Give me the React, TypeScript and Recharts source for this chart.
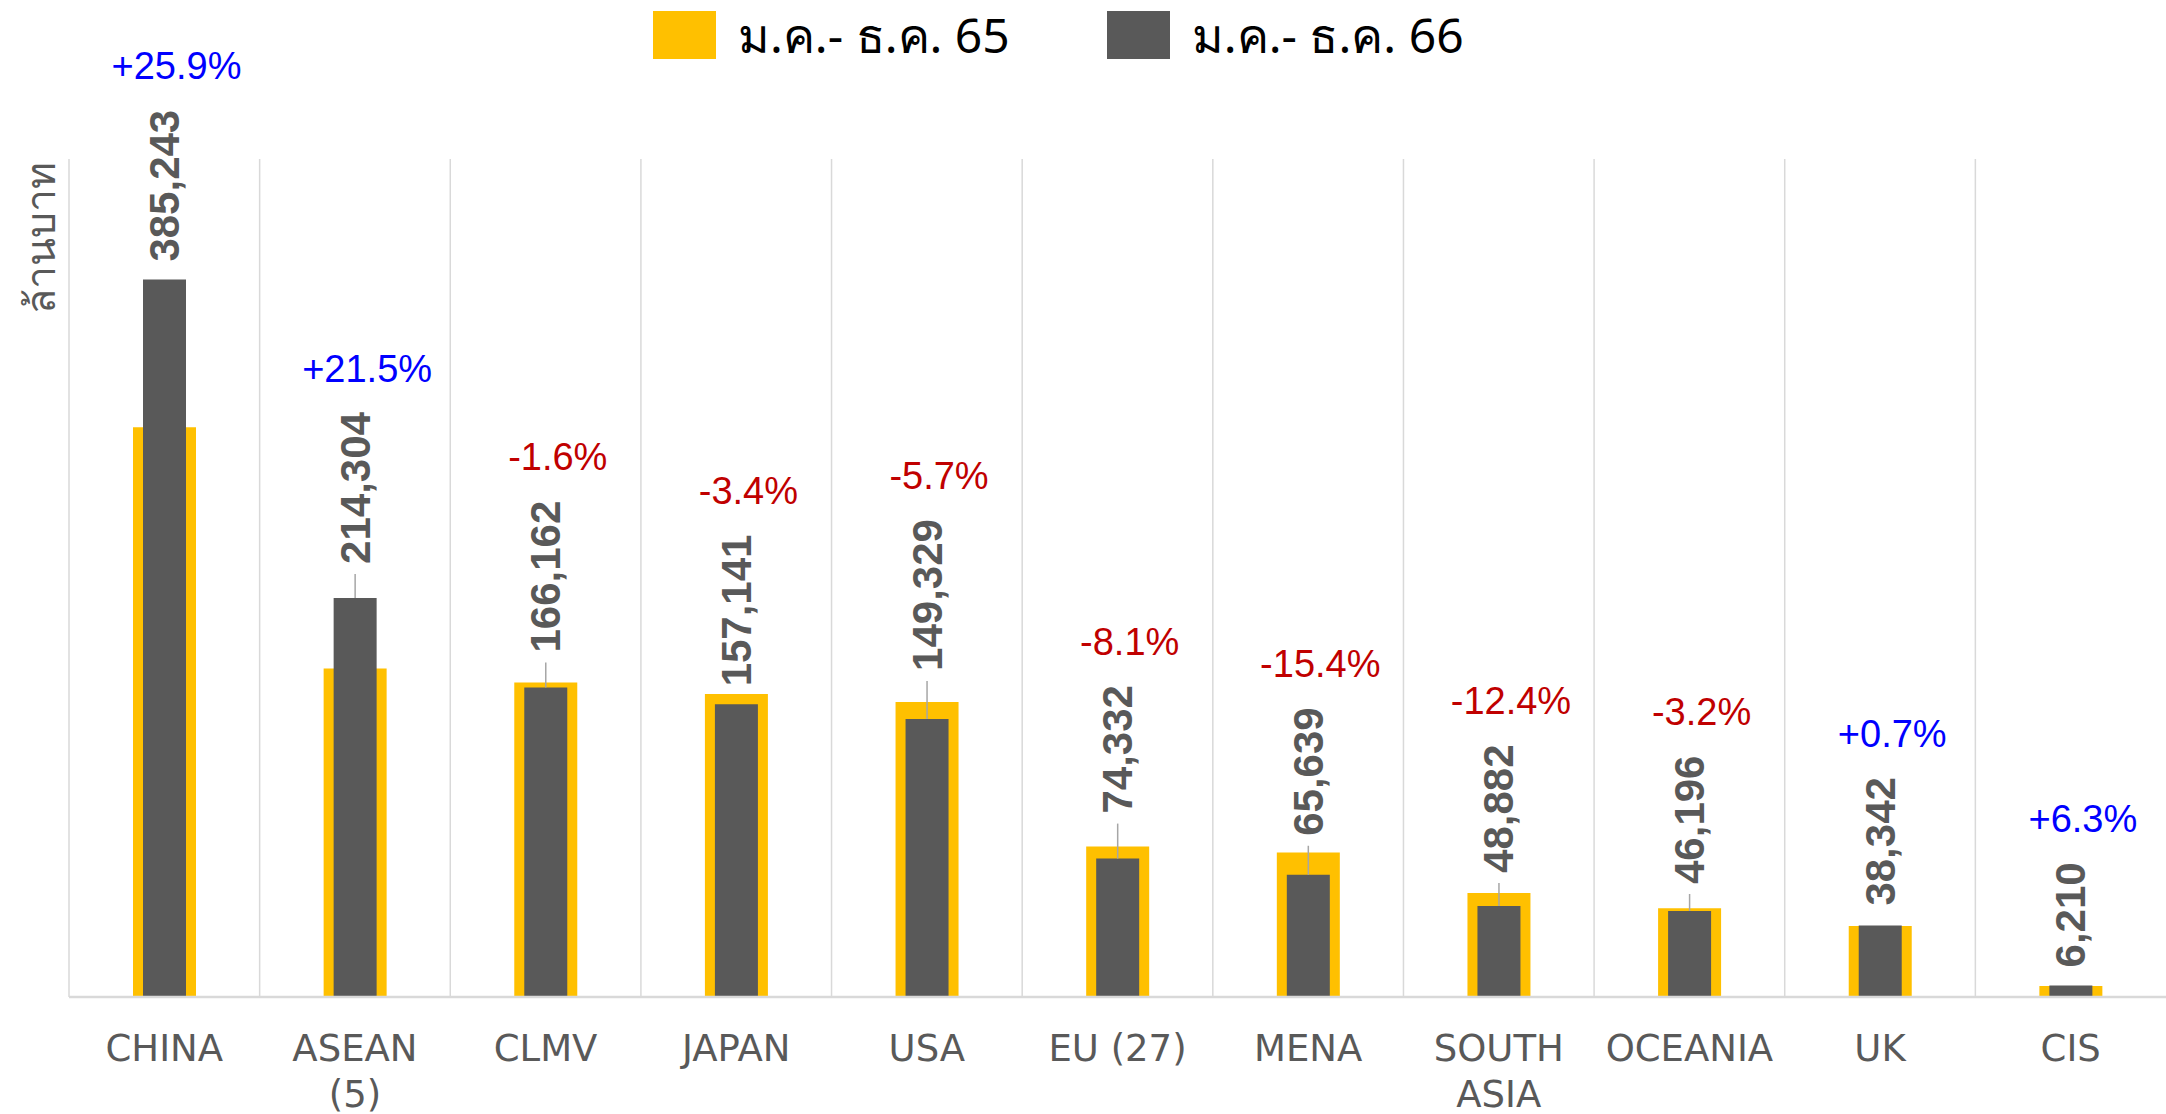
import { BarChart, Bar, XAxis, YAxis, CartesianGrid, LabelList } from "recharts"

const regions = ["CHINA", "ASEAN\n(5)", "CLMV", "JAPAN", "USA", "EU (27)", "MENA", "SOUTH\nASIA", "OCEANIA", "UK", "CIS"]
const value65 = [305991, 176382, 168864, 162672, 158355, 80883, 77587, 55801, 47723, 38075, 5842]
const value66 = [385243, 214304, 166162, 157141, 149329, 74332, 65639, 48882, 46196, 38342, 6210]
const changeText = ["+25.9%", "+21.5%", "-1.6%", "-3.4%", "-5.7%", "-8.1%", "-15.4%", "-12.4%", "-3.2%", "+0.7%", "+6.3%"]
const seriesNames = ["ม.ค.- ธ.ค. 65", "ม.ค.- ธ.ค. 66"]

// how far each value label was dragged above its bar in the original (px)
const labelLift = [18, 34, 35, 18, 48, 45, 39, 33, 27, 20, 18]

const rows = regions.map((name, i) => ({ name, y65: value65[i], y66: value66[i] }))

const YELLOW = "#FFC000"
const GRAY = "#595959"
const GRID = "#d9d9d9"
const THAI = "Tahoma, 'Noto Sans', 'Noto Sans CJK SC', sans-serif"

function CategoryTick({ x, y, payload }: any) {
  const lines = String(payload.value).split("\n")
  return (
    <g>
      {lines.map((t, i) => (
        <text key={i} x={x} y={y + 49 + i * 46} textAnchor="middle" dominantBaseline="central"
          fill={GRAY} fontSize={37} fontFamily="DejaVu Sans">{t}</text>
      ))}
    </g>
  )
}

function ValueLabel(props: any) {
  const { x, y, width, value, index } = props
  const cx = x + width / 2
  const lift = labelLift[index]
  const y0 = y - lift
  const text = Number(value).toLocaleString("en-US")
  const len = text.replace(/,/g, "").length * 23.4 + (text.includes(",") ? 11.7 : 0)
  const change = changeText[index]
  return (
    <g>
      {lift > 24 && <line x1={cx} y1={y} x2={cx} y2={y0 + 10} stroke="#a6a6a6" strokeWidth={1.5} />}
      <text transform={`rotate(-90 ${cx} ${y0})`} x={cx} y={y0} textAnchor="start" dominantBaseline="central"
        fill={GRAY} fontSize={42} fontWeight="bold" fontFamily="'Liberation Sans', Arial, sans-serif">{text}</text>
      <text x={cx + 12} y={y0 - len - 43} textAnchor="middle" dominantBaseline="central"
        fill={change.startsWith("-") ? "#C00000" : "#0000FF"} fontSize={38}
        fontFamily="'Liberation Sans', Arial, sans-serif">{change}</text>
    </g>
  )
}

function LegendBox() {
  const colors = [YELLOW, GRAY]
  return (
    <div style={{ position: "absolute", left: 653, top: 11, display: "flex", alignItems: "center" }}>
      {seriesNames.map((n, i) => (
        <div key={n} style={{ display: "flex", alignItems: "center", marginRight: 97 }}>
          <div style={{ width: 63, height: 48, background: colors[i], marginRight: 22 }} />
          <span style={{ fontFamily: THAI, fontSize: 48, color: "#000", lineHeight: "48px" }}>{n}</span>
        </div>
      ))}
    </div>
  )
}

export default function App() {
  return (
    <div style={{ position: "absolute", left: 0, top: 0, width: 2166, height: 1114, background: "#fff" }}>
      <BarChart width={2166} height={1114} data={rows} margin={{ top: 159, right: 0, left: 69, bottom: 7 }}>
        <CartesianGrid xAxisId="a" horizontal={false} stroke={GRID} strokeWidth={1.5}
          verticalCoordinatesGenerator={({ offset }: any) =>
            regions.map((_, i) => offset.left + (i * offset.width) / regions.length)} />
        <XAxis xAxisId="a" dataKey="name" height={110} interval={0} tickLine={false} tickSize={0}
          axisLine={{ stroke: GRID, strokeWidth: 2.5 }} tick={<CategoryTick />} />
        <XAxis xAxisId="b" dataKey="name" hide />
        <YAxis hide domain={[0, 450000]} />
        <Bar xAxisId="a" dataKey="y65" name={seriesNames[0]} fill={YELLOW} barSize={63} isAnimationActive={false} />
        <Bar xAxisId="b" dataKey="y66" name={seriesNames[1]} fill={GRAY} barSize={43} isAnimationActive={false}>
          <LabelList dataKey="y66" content={<ValueLabel />} />
        </Bar>
      </BarChart>
      <LegendBox />
      <div style={{ position: "absolute", left: 40, top: 238, transform: "translate(-50%, -50%) rotate(-90deg)",
        fontFamily: THAI, fontSize: 41, color: GRAY, whiteSpace: "nowrap" }}>ล้านบาท</div>
    </div>
  )
}
